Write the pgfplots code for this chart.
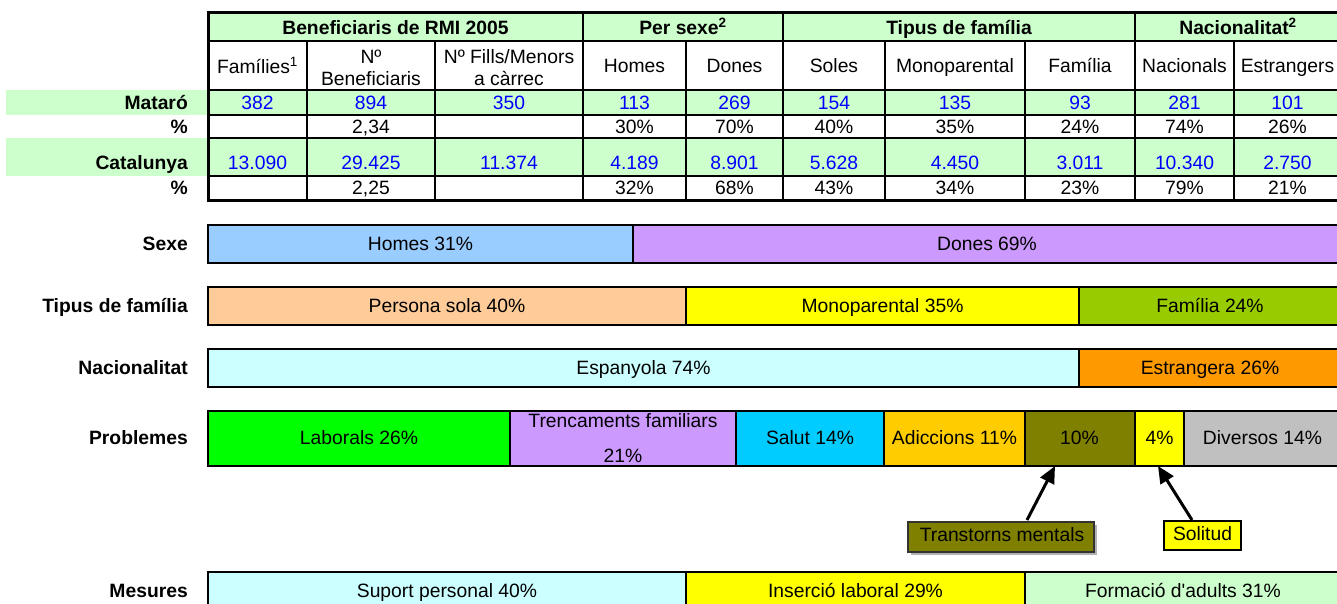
\documentclass[border=0pt]{standalone}
\usepackage{fontspec}
\newfontfamily\arial{Liberation Sans}
\usepackage{pgfplots}
\pgfplotsset{compat=1.18}
\usetikzlibrary{arrows.meta}
\definecolor{tgreen}{HTML}{CCFFCC}
\definecolor{cHomes}{HTML}{99CCFF}
\definecolor{cDones}{HTML}{CC99FF}
\definecolor{cSola}{HTML}{FFCC99}
\definecolor{cMono}{HTML}{FFFF00}
\definecolor{cFam}{HTML}{99CC00}
\definecolor{cEsp}{HTML}{CCFFFF}
\definecolor{cEstr}{HTML}{FF9900}
\definecolor{cLab}{HTML}{00FF00}
\definecolor{cTren}{HTML}{CC99FF}
\definecolor{cSalut}{HTML}{00CCFF}
\definecolor{cAdic}{HTML}{FFCC00}
\definecolor{cMent}{HTML}{808000}
\definecolor{cSol}{HTML}{FFFF00}
\definecolor{cDiv}{HTML}{C0C0C0}
\definecolor{cSup}{HTML}{CCFFFF}
\definecolor{cIns}{HTML}{FFFF00}
\definecolor{cForm}{HTML}{CCFFCC}
\definecolor{tblue}{HTML}{0000FF}
\tikzset{
  tt/.style={font=\arial\fontsize{19.3}{23}\selectfont, text height=13.8pt, text depth=0pt, inner sep=0pt},
  tb/.style={tt, font=\arial\bfseries\fontsize{19.3}{23}\selectfont},
  tv/.style={tt, text=tblue},
  lab/.style={tb, anchor=east},
  seg/.style={draw=black, line width=2pt, line join=miter, mark=none},
  grid/.style={line width=2pt},
}
\begin{document}
\begin{tikzpicture}
\begin{axis}[
  width=1337pt, height=603pt, scale only axis,
  xmin=0, xmax=1337, ymin=0, ymax=603, y dir=reverse,
  hide axis, clip=true,
]
\fill[white] (0,0) rectangle (1337,603);
% ---------- table backgrounds ----------
\fill[tgreen] (208,12) rectangle (1341,41);
\fill[tgreen] (6,90) rectangle (1341,115);
\fill[tgreen] (6,138) rectangle (1341,176);
% ---------- table header ----------
\node[tb] at (395.5,28) {Beneficiaris de RMI 2005};
\node[tb] at (683,28) {Per sexe\textsuperscript{2}};
\node[tb] at (959,28) {Tipus de família};
\node[tb] at (1238,28) {Nacionalitat\textsuperscript{2}};
\node[tt] at (257.5,67) {Famílies\textsuperscript{1}};
\node[tt] at (371,57) {Nº};
\node[tt] at (371,79) {Beneficiaris};
\node[tt] at (509,57) {Nº Fills/Menors};
\node[tt] at (509,79) {a càrrec};
\node[tt] at (634.5,66) {Homes};
\node[tt] at (734.5,66) {Dones};
\node[tt] at (834,66) {Soles};
\node[tt] at (955,66) {Monoparental};
\node[tt] at (1080,66) {Família};
\node[tt] at (1184.5,66) {Nacionals};
\node[tt] at (1287.5,66) {Estrangers};
% ---------- row labels ----------
\node[lab] at (188,103) {Mataró};
\node[lab] at (188,127) {\%};
\node[lab] at (188,163) {Catalunya};
\node[lab] at (188,188) {\%};
% ---------- Mataró ----------
\node[tv] at (257.5,103) {382};
\node[tv] at (371,103) {894};
\node[tv] at (509,103) {350};
\node[tv] at (634.5,103) {113};
\node[tv] at (734.5,103) {269};
\node[tv] at (834,103) {154};
\node[tv] at (955,103) {135};
\node[tv] at (1080,103) {93};
\node[tv] at (1184.5,103) {281};
\node[tv] at (1287.5,103) {101};
\node[tt] at (371,127) {2,34};
\node[tt] at (634.5,127) {30\%};
\node[tt] at (734.5,127) {70\%};
\node[tt] at (834,127) {40\%};
\node[tt] at (955,127) {35\%};
\node[tt] at (1080,127) {24\%};
\node[tt] at (1184.5,127) {74\%};
\node[tt] at (1287.5,127) {26\%};
% ---------- Catalunya ----------
\node[tv] at (257.5,163) {13.090};
\node[tv] at (371,163) {29.425};
\node[tv] at (509,163) {11.374};
\node[tv] at (634.5,163) {4.189};
\node[tv] at (734.5,163) {8.901};
\node[tv] at (834,163) {5.628};
\node[tv] at (955,163) {4.450};
\node[tv] at (1080,163) {3.011};
\node[tv] at (1184.5,163) {10.340};
\node[tv] at (1287.5,163) {2.750};
\node[tt] at (371,188) {2,25};
\node[tt] at (634.5,188) {32\%};
\node[tt] at (734.5,188) {68\%};
\node[tt] at (834,188) {43\%};
\node[tt] at (955,188) {34\%};
\node[tt] at (1080,188) {23\%};
\node[tt] at (1184.5,188) {79\%};
\node[tt] at (1287.5,188) {21\%};
% ---------- table grid ----------
\draw[grid] (208,41) -- (1341,41);
\draw[grid] (208,90) -- (1341,90);
\draw[grid] (208,115) -- (1341,115);
\draw[grid] (208,138) -- (1341,138);
\draw[grid] (208,176) -- (1341,176);
\draw[grid] (583,12) -- (583,200);
\draw[grid] (783,12) -- (783,200);
\draw[grid] (1135,12) -- (1135,200);
\draw[grid] (307,41) -- (307,200);
\draw[grid] (435,41) -- (435,200);
\draw[grid] (686,41) -- (686,200);
\draw[grid] (885,41) -- (885,200);
\draw[grid] (1025,41) -- (1025,200);
\draw[grid] (1234,41) -- (1234,200);
\draw[line width=3pt, line join=miter] (208,12) rectangle (1341,200);
% ---------- bars ----------
% Sexe
\addplot[seg, fill=cHomes] coordinates {(208,225) (633,225) (633,263) (208,263)} -- cycle;
\addplot[seg, fill=cDones] coordinates {(633,225) (1341,225) (1341,263) (633,263)} -- cycle;
% Tipus de familia
\addplot[seg, fill=cSola] coordinates {(208,287) (686,287) (686,325) (208,325)} -- cycle;
\addplot[seg, fill=cMono] coordinates {(686,287) (1079,287) (1079,325) (686,325)} -- cycle;
\addplot[seg, fill=cFam] coordinates {(1079,287) (1341,287) (1341,325) (1079,325)} -- cycle;
% Nacionalitat
\addplot[seg, fill=cEsp] coordinates {(208,349) (1079,349) (1079,387) (208,387)} -- cycle;
\addplot[seg, fill=cEstr] coordinates {(1079,349) (1341,349) (1341,387) (1079,387)} -- cycle;
% Problemes
\addplot[seg, fill=cLab] coordinates {(208,411) (510,411) (510,466) (208,466)} -- cycle;
\addplot[seg, fill=cTren] coordinates {(510,411) (736,411) (736,466) (510,466)} -- cycle;
\addplot[seg, fill=cSalut] coordinates {(736,411) (884,411) (884,466) (736,466)} -- cycle;
\addplot[seg, fill=cAdic] coordinates {(884,411) (1025,411) (1025,466) (884,466)} -- cycle;
\addplot[seg, fill=cMent] coordinates {(1025,411) (1135,411) (1135,466) (1025,466)} -- cycle;
\addplot[seg, fill=cSol] coordinates {(1135,411) (1184,411) (1184,466) (1135,466)} -- cycle;
\addplot[seg, fill=cDiv] coordinates {(1184,411) (1341,411) (1341,466) (1184,466)} -- cycle;
% Mesures
\addplot[seg, fill=cSup] coordinates {(208,572) (686,572) (686,610) (208,610)} -- cycle;
\addplot[seg, fill=cIns] coordinates {(686,572) (1025,572) (1025,610) (686,610)} -- cycle;
\addplot[seg, fill=cForm] coordinates {(1025,572) (1341,572) (1341,610) (1025,610)} -- cycle;
% ---------- bar labels ----------
\node[lab] at (188,244) {Sexe};
\node[lab] at (188,306) {Tipus de família};
\node[lab] at (188,368) {Nacionalitat};
\node[lab] at (188,438) {Problemes};
\node[lab] at (188,591) {Mesures};
\node[tt] at (420.5,244) {Homes 31\%};
\node[tt] at (987,244) {Dones 69\%};
\node[tt] at (447,306) {Persona sola 40\%};
\node[tt] at (882.5,306) {Monoparental 35\%};
\node[tt] at (1210,306) {Família 24\%};
\node[tt] at (643.5,368) {Espanyola 74\%};
\node[tt] at (1210,368) {Estrangera 26\%};
\node[tt] at (359,438) {Laborals 26\%};
\node[tt] at (623,421) {Trencaments familiars};
\node[tt] at (623,456) {21\%};
\node[tt] at (810,438) {Salut 14\%};
\node[tt] at (954.5,438) {Adiccions 11\%};
\node[tt] at (1079.5,438) {10\%};
\node[tt] at (1159.5,438) {4\%};
\node[tt] at (1262.5,438) {Diversos 14\%};
\node[tt] at (447,591) {Suport personal 40\%};
\node[tt] at (855.5,591) {Inserció laboral 29\%};
\node[tt] at (1183,591) {Formació d'adults 31\%};
% ---------- annotations ----------
\draw[line width=3pt, -{Triangle[length=17pt,width=15pt]}] (1027,520) -- (1055,466);
\draw[line width=3pt, -{Triangle[length=17pt,width=15pt]}] (1192,520) -- (1158,466);
\fill[gray!60] (911,525) rectangle (1097,555);
\draw[line width=1.5pt, fill=cMent, draw=black!80] (908,522) rectangle (1094,552);
\node[tt] at (1002,535) {Transtorns mentals};
\draw[line width=1.5pt, fill=cSol, draw=black] (1164,521) rectangle (1241,550);
\node[tt] at (1202.5,534) {Solitud};
\end{axis}
\end{tikzpicture}
\end{document}
